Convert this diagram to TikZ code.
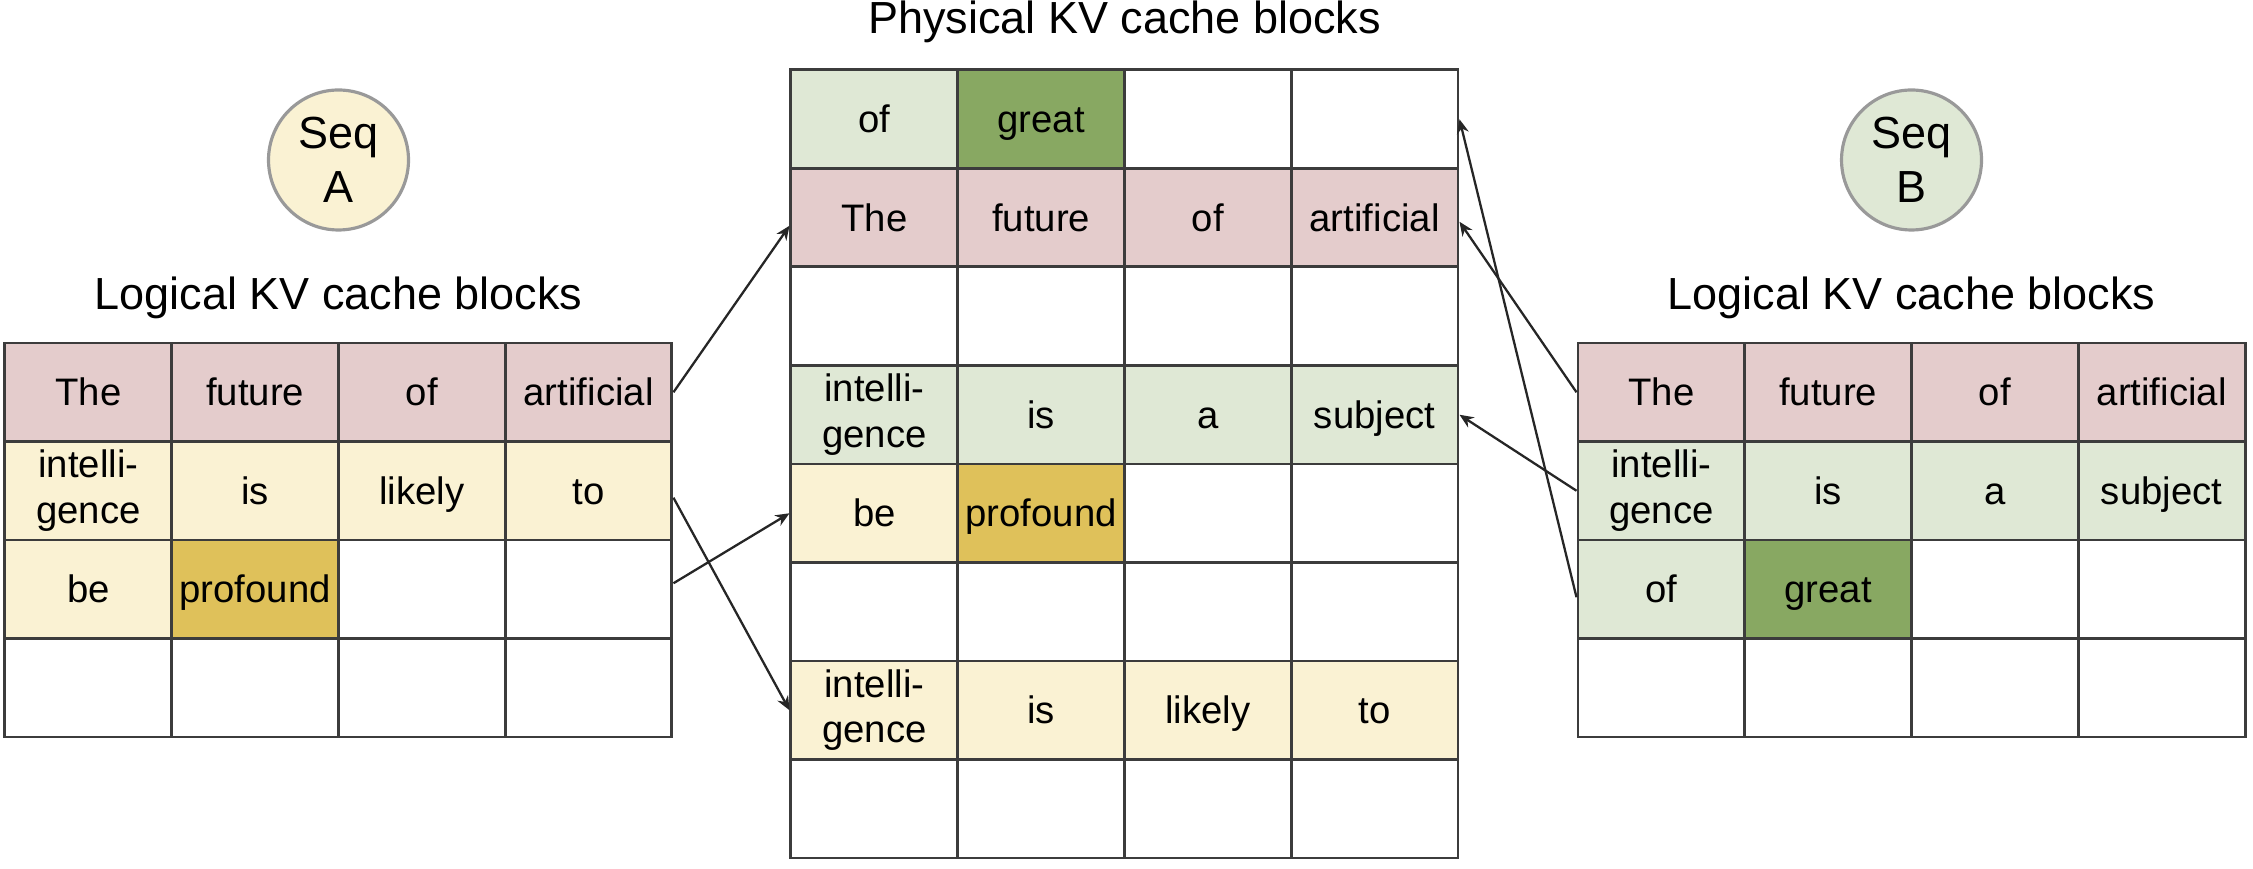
\documentclass[tikz,border=0pt]{standalone}
\usepackage{fontspec}
\setmainfont{Liberation Sans}
\usetikzlibrary{arrows.meta,positioning}
\definecolor{redblk}{HTML}{E4CCCC}
\definecolor{ylwblk}{HTML}{FAF2D3}
\definecolor{ylwnew}{HTML}{DFC15A}
\definecolor{grnblk}{HTML}{DFE8D5}
\definecolor{grnnew}{HTML}{88A862}
\definecolor{gridln}{HTML}{3C3C3C}
\newcommand{\cellstrut}{\rule[-2.3pt]{0pt}{12.2pt}}

\begin{document}
\begin{tikzpicture}[
    x=0.1mm, y=-0.1mm,
    cell/.style={draw=gridln, line width=0.85pt, minimum width=16.675mm, minimum height=9.85mm,
                 inner sep=0pt, align=center, font=\fontsize{10.9}{13}\selectfont,
                 execute at begin node=\cellstrut, execute at end node=\cellstrut},
    seq/.style={circle, draw=black!40, line width=0.9pt, minimum size=14mm, inner sep=0pt,
                align=center, font=\fontsize{12.8}{15.3}\selectfont},
    ttl/.style={anchor=base, font=\fontsize{12.8}{15}\selectfont},
    map/.style={-{Stealth[length=4pt,width=3.4pt]}, line width=0.65pt, draw=black!85}
]
\useasboundingbox (0,0) rectangle (2253,869);

% sequence A
\node[seq, fill=ylwblk] (seqa) at (338.5,160) {Seq\\A};
\node[ttl] (tla) at (338.5,310) {Logical KV cache blocks};
\foreach \f/\w [count=\c] in {redblk/The, redblk/future, redblk/of, redblk/artificial}
  \node[cell, fill=\f] (a1\c) at ({\c*166.75-78.4}, 392.25) {\w};
\foreach \f/\w [count=\c] in {ylwblk/{intelli-\\gence}, ylwblk/is, ylwblk/likely, ylwblk/to}
  \node[cell, fill=\f] (a2\c) at ({\c*166.75-78.4}, 490.75) {\w};
\foreach \f/\w [count=\c] in {ylwblk/be, ylwnew/profound, white/{}, white/{}}
  \node[cell, fill=\f] (a3\c) at ({\c*166.75-78.4}, 589.25) {\w};
\foreach \c in {1,...,4}
  \node[cell, fill=white] (a4\c) at ({\c*166.75-78.4}, 687.75) {};

% physical blocks
\node[ttl] (tph) at (1124.5,34) {Physical KV cache blocks};
\foreach \f/\w [count=\c] in {grnblk/of, grnnew/great, white/{}, white/{}}
  \node[cell, fill=\f] (p1\c) at ({\c*166.75+707.6}, 119.25) {\w};
\foreach \f/\w [count=\c] in {redblk/The, redblk/future, redblk/of, redblk/artificial}
  \node[cell, fill=\f] (p2\c) at ({\c*166.75+707.6}, 217.75) {\w};
\foreach \c in {1,...,4}
  \node[cell, fill=white] (p3\c) at ({\c*166.75+707.6}, 316.25) {};
\foreach \f/\w [count=\c] in {grnblk/{intelli-\\gence}, grnblk/is, grnblk/a, grnblk/subject}
  \node[cell, fill=\f] (p4\c) at ({\c*166.75+707.6}, 414.75) {\w};
\foreach \f/\w [count=\c] in {ylwblk/be, ylwnew/profound, white/{}, white/{}}
  \node[cell, fill=\f] (p5\c) at ({\c*166.75+707.6}, 513.25) {\w};
\foreach \c in {1,...,4}
  \node[cell, fill=white] (p6\c) at ({\c*166.75+707.6}, 611.75) {};
\foreach \f/\w [count=\c] in {ylwblk/{intelli-\\gence}, ylwblk/is, ylwblk/likely, ylwblk/to}
  \node[cell, fill=\f] (p7\c) at ({\c*166.75+707.6}, 710.25) {\w};
\foreach \c in {1,...,4}
  \node[cell, fill=white] (p8\c) at ({\c*166.75+707.6}, 808.75) {};

% sequence B
\node[seq, fill=grnblk] (seqb) at (1911.5,160) {Seq\\B};
\node[ttl] (tlb) at (1911.5,310) {Logical KV cache blocks};
\foreach \f/\w [count=\c] in {redblk/The, redblk/future, redblk/of, redblk/artificial}
  \node[cell, fill=\f] (b1\c) at ({\c*166.75+1494.6}, 392.25) {\w};
\foreach \f/\w [count=\c] in {grnblk/{intelli-\\gence}, grnblk/is, grnblk/a, grnblk/subject}
  \node[cell, fill=\f] (b2\c) at ({\c*166.75+1494.6}, 490.75) {\w};
\foreach \f/\w [count=\c] in {grnblk/of, grnnew/great, white/{}, white/{}}
  \node[cell, fill=\f] (b3\c) at ({\c*166.75+1494.6}, 589.25) {\w};
\foreach \c in {1,...,4}
  \node[cell, fill=white] (b4\c) at ({\c*166.75+1494.6}, 687.75) {};

% block table mappings
\draw[map] (a14.east) -- ([yshift=-0.8mm]p21.west);
\draw[map] ([yshift=-0.7mm]a24.east) -- (p71.west);
\draw[map] ([yshift=0.6mm]a34.east) -- (p51.west);
\draw[map] (b11.west) -- ([yshift=-0.4mm]p24.east);
\draw[map] (b21.west) -- (p44.east);
\draw[map] ([yshift=-0.8mm]b31.west) -- (p14.east);
\end{tikzpicture}
\end{document}
